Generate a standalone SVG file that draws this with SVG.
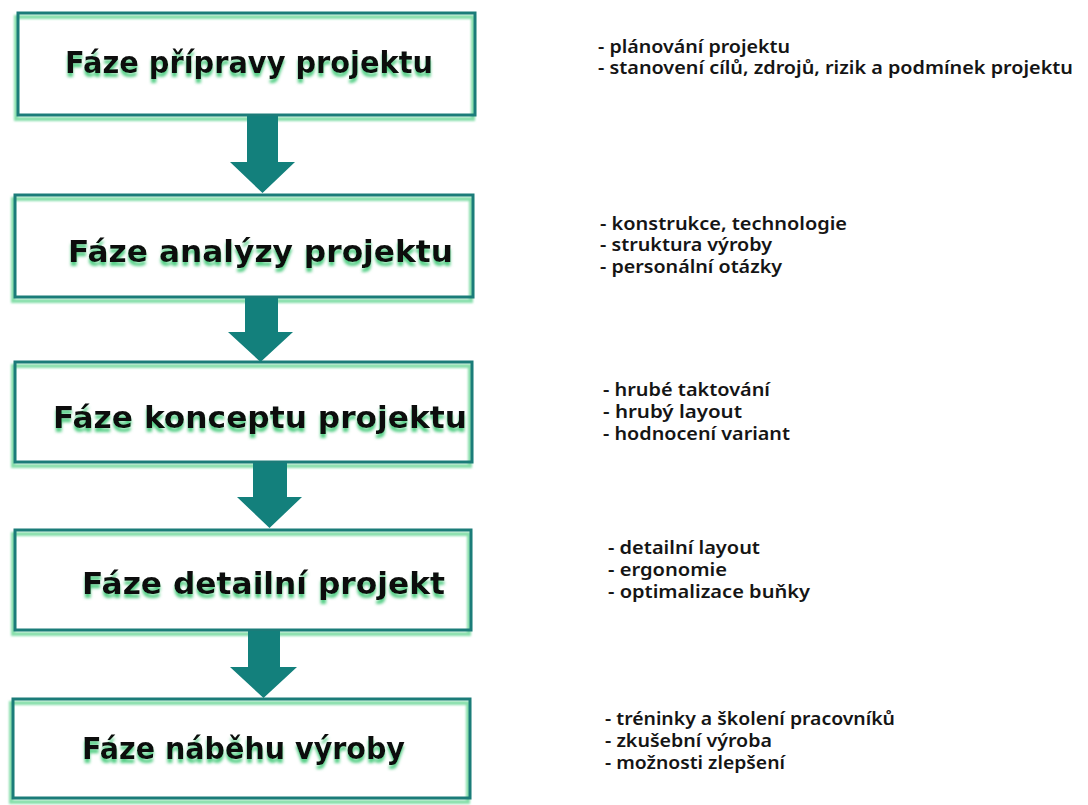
<svg xmlns="http://www.w3.org/2000/svg" width="1088" height="805" viewBox="0 0 1088 805">
  <defs>
    <filter id="soft" x="-5%" y="-20%" width="110%" height="140%">
      <feGaussianBlur stdDeviation="1.1"/>
    </filter>
    <!-- green glow dropped below the heading text -->
    <filter id="textglow" x="-5%" y="-30%" width="110%" height="170%">
      <feGaussianBlur in="SourceAlpha" stdDeviation="1.4" result="blur"/>
      <feOffset in="blur" dx="0" dy="4" result="shifted"/>
      <feFlood flood-color="#55cf86"/>
      <feComposite in2="shifted" operator="in" result="halo"/>
      <feMerge>
        <feMergeNode in="halo"/>
        <feMergeNode in="SourceGraphic"/>
      </feMerge>
    </filter>
  </defs>
  <style>
    .frame { fill: none; stroke: #1b7c79; stroke-width: 3; }
    .frame-shadow { fill: none; stroke: #86dfaa; stroke-width: 4; filter: url(#soft); }
    .title { font-family: "DejaVu Sans", Verdana, sans-serif; font-weight: bold; font-size: 30px; fill: #0a0a0a; filter: url(#textglow); }
    .note { font-family: "Noto Sans", "Open Sans", sans-serif; font-weight: 600; font-size: 17px; fill: #151515; }
    .arrow { fill: #13807c; }
  </style>
  <rect width="1088" height="805" fill="#ffffff"/>

  <!-- phase boxes: light green offset halo under a teal frame -->
  <g id="phase-1">
    <rect x="18" y="13" width="457" height="102" fill="#ffffff"/>
    <rect class="frame-shadow" x="16" y="17" width="457" height="102"/>
    <rect class="frame" x="18" y="13" width="457" height="102"/>
    <text class="title" x="65" y="73" textLength="368" lengthAdjust="spacingAndGlyphs">Fáze přípravy projektu</text>
  </g>

  <g id="phase-2">
    <rect x="15" y="195" width="458" height="102" fill="#ffffff"/>
    <rect class="frame-shadow" x="13" y="199" width="458" height="102"/>
    <rect class="frame" x="15" y="195" width="458" height="102"/>
    <text class="title" x="68" y="262" textLength="385" lengthAdjust="spacingAndGlyphs">Fáze analýzy projektu</text>
  </g>

  <g id="phase-3">
    <rect x="15" y="362" width="457" height="100" fill="#ffffff"/>
    <rect class="frame-shadow" x="13" y="366" width="457" height="100"/>
    <rect class="frame" x="15" y="362" width="457" height="100"/>
    <text class="title" x="53" y="428" textLength="414" lengthAdjust="spacingAndGlyphs">Fáze konceptu projektu</text>
  </g>

  <g id="phase-4">
    <rect x="15" y="530" width="456" height="100" fill="#ffffff"/>
    <rect class="frame-shadow" x="13" y="534" width="456" height="100"/>
    <rect class="frame" x="15" y="530" width="456" height="100"/>
    <text class="title" x="82" y="594" textLength="363" lengthAdjust="spacingAndGlyphs">Fáze detailní projekt</text>
  </g>

  <g id="phase-5">
    <rect x="13" y="699" width="457" height="99" fill="#ffffff"/>
    <rect class="frame-shadow" x="11" y="703" width="457" height="99"/>
    <rect class="frame" x="13" y="699" width="457" height="99"/>
    <text class="title" x="82" y="759" textLength="323" lengthAdjust="spacingAndGlyphs">Fáze náběhu výroby</text>
  </g>

  <!-- block arrows between phases -->
  <g id="connectors">
    <polygon class="arrow" points="247,116 278,116 278,162 295,162 262.5,193 230,162 247,162"/>
    <polygon class="arrow" points="245,298 278,298 278,332 293,332 260.5,362 228,332 245,332"/>
    <polygon class="arrow" points="253,463 287,463 287,497 302,497 269.5,528 237,497 253,497"/>
    <polygon class="arrow" points="248,631 280,631 280,667 297,667 263.5,698 230,667 248,667"/>
  </g>

  <!-- notes beside each phase -->
  <g id="notes-1">
    <text class="note" x="598" y="53" textLength="192" lengthAdjust="spacingAndGlyphs">- plánování projektu</text>
    <text class="note" x="598" y="74" textLength="475" lengthAdjust="spacingAndGlyphs">- stanovení cílů, zdrojů, rizik a podmínek projektu</text>
  </g>
  <g id="notes-2">
    <text class="note" x="600" y="230" textLength="247" lengthAdjust="spacingAndGlyphs">- konstrukce, technologie</text>
    <text class="note" x="600" y="251" textLength="172" lengthAdjust="spacingAndGlyphs">- struktura výroby</text>
    <text class="note" x="600" y="273" textLength="182" lengthAdjust="spacingAndGlyphs">- personální otázky</text>
  </g>
  <g id="notes-3">
    <text class="note" x="603" y="396" textLength="167" lengthAdjust="spacingAndGlyphs">- hrubé taktování</text>
    <text class="note" x="603" y="418" textLength="139" lengthAdjust="spacingAndGlyphs">- hrubý layout</text>
    <text class="note" x="603" y="440" textLength="187" lengthAdjust="spacingAndGlyphs">- hodnocení variant</text>
  </g>
  <g id="notes-4">
    <text class="note" x="608" y="554" textLength="152" lengthAdjust="spacingAndGlyphs">- detailní layout</text>
    <text class="note" x="608" y="576" textLength="119" lengthAdjust="spacingAndGlyphs">- ergonomie</text>
    <text class="note" x="608" y="598" textLength="202" lengthAdjust="spacingAndGlyphs">- optimalizace buňky</text>
  </g>
  <g id="notes-5">
    <text class="note" x="605" y="725" textLength="290" lengthAdjust="spacingAndGlyphs">- tréninky a školení pracovníků</text>
    <text class="note" x="605" y="747" textLength="167" lengthAdjust="spacingAndGlyphs">- zkušební výroba</text>
    <text class="note" x="605" y="769" textLength="180" lengthAdjust="spacingAndGlyphs">- možnosti zlepšení</text>
  </g>
</svg>
